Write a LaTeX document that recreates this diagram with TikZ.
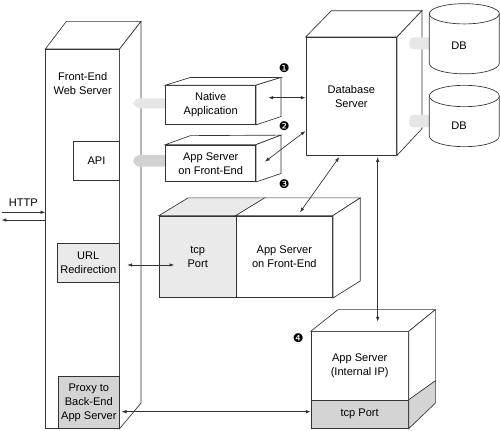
\documentclass[tikz,border=0pt]{standalone}
\usepackage{fontspec}
\setmainfont{Liberation Sans}
\newfontfamily\dvfont{DejaVu Sans}
\usetikzlibrary{calc,arrows.meta}
\newcommand\lbl{\fontsize{8.3}{10.6}\selectfont}
\newcommand\mk{\dvfont\fontsize{9}{9}\selectfont}
\definecolor{lightfill}{HTML}{EAEAEA}
\definecolor{midfill}{HTML}{D4D4D4}
\definecolor{stubA}{HTML}{E6E6E6}
\definecolor{stubB}{HTML}{D2D2D2}
\definecolor{linec}{HTML}{333333}
\tikzset{
  ln/.style={draw=linec, line width=0.5pt, line join=miter},
  face/.style={ln, fill=white, rectangle, inner sep=0pt, align=center, font=\lbl},
  txt/.style={inner sep=0pt, align=center, font=\lbl},
  marker/.style={inner sep=0pt, font=\mk},
  dbl/.style={ln, {Latex[length=3.6pt,width=2.6pt]}-{Latex[length=3.6pt,width=2.6pt]}},
  sgl/.style={ln, -{Latex[length=3.6pt,width=2.6pt]}},
}
\begin{document}
\begin{tikzpicture}[x=0.75pt,y=-0.75pt]
\useasboundingbox[fill=white] (0,0) rectangle (500,431);

% Front-End Web Server
\node[face, minimum width=55.2pt, minimum height=284.25pt] (ws) at (82.5,238.8) {};
\draw[ln, fill=white] (ws.north west) -- ($(ws.north west)+(21,-27.6)$) -- ($(ws.north east)+(21.4,-27.6)$) -- (ws.north east) -- cycle;
\draw[ln, fill=white] (ws.north east) -- ($(ws.north east)+(21.4,-27.6)$) -- ($(ws.south east)+(21.4,-25.6)$) -- (ws.south east) -- cycle;
\node[txt] (wslabel) at (82.7,83.7) {Front-End\\Web Server};
\node[face, minimum width=34.2pt, minimum height=28.7pt] (api) at (96.5,160.8) {API};
\node[face, fill=lightfill, minimum width=46.5pt, minimum height=29.25pt] (url) at (88.3,262.8) {URL\\Redirection};
\node[face, fill=midfill, minimum width=45.75pt, minimum height=38.7pt] (proxy) at (88.8,402.5) {Proxy to\\Back-End\\App Server};

% gray stubs from web server
\fill[stubA, rounded corners=5] (133.3,98.3) rectangle (170,108.3);
\fill[stubB, rounded corners=5] (133.3,155) rectangle (170,166.7);

% Native Application
\node[face, minimum width=67.5pt, minimum height=29.25pt] (nat) at (210.7,105) {Native\\Application};
\draw[ln, fill=white] (nat.north west) -- ($(nat.north west)+(25,-7.7)$) -- ($(nat.north east)+(25,-7.7)$) -- (nat.north east) -- cycle;
\draw[ln, fill=white] (nat.north east) -- ($(nat.north east)+(25,-7.7)$) -- ($(nat.south east)+(25,-8.3)$) -- (nat.south east) -- cycle;

% App Server on Front-End (small)
\node[face, minimum width=67.5pt, minimum height=27.5pt] (afe) at (210.7,163.3) {App Server\\on Front-End};
\draw[ln, fill=white] (afe.north west) -- ($(afe.north west)+(25,-9)$) -- ($(afe.north east)+(25,-9.5)$) -- (afe.north east) -- cycle;
\draw[ln, fill=white] (afe.north east) -- ($(afe.north east)+(25,-9.5)$) -- ($(afe.south east)+(25,-8.5)$) -- (afe.south east) -- cycle;

% Database Server
\node[face, minimum width=68pt, minimum height=88.3pt] (db) at (351.3,96.2) {Database\\Server};
\draw[ln, fill=white] (db.north west) -- ($(db.north west)+(25.7,-26.3)$) -- ($(db.north east)+(25,-26.3)$) -- (db.north east) -- cycle;
\draw[ln, fill=white] (db.north east) -- ($(db.north east)+(25,-26.3)$) -- ($(db.south east)+(25,-26.7)$) -- (db.south east) -- cycle;

% DB stubs
\fill[stubA, rounded corners=3] (409.3,37.3) rectangle (432,49.3);
\fill[stubA, rounded corners=3] (409.3,115) rectangle (432,127.3);

% DB cylinders
\draw[ln, fill=white] (429.3,13.8) -- (429.3,63.3) arc[start angle=180, end angle=360, x radius=26.25pt, y radius=7.9pt] -- (499.3,13.8) -- cycle;
\draw[ln, fill=white] (464.3,13.8) ellipse [x radius=26.25pt, y radius=7.6pt];
\node[txt] (db1) at (459,46) {DB};
\draw[ln, fill=white] (429.3,96) -- (429.3,136) arc[start angle=180, end angle=360, x radius=26.25pt, y radius=8pt] -- (499.3,96) -- cycle;
\draw[ln, fill=white] (464.3,96) ellipse [x radius=26.25pt, y radius=8pt];
\node[txt] (db2) at (459,126) {DB};

% tcp Port + App Server on Front-End (large box)
\node[face, fill=lightfill, minimum width=57.5pt, minimum height=61.3pt] (tcp) at (197.7,256.8) {tcp\\Port};
\node[face, minimum width=72.5pt, minimum height=61.3pt] (afe3) at (284.3,256.8) {App Server\\on Front-End};
\draw[ln, fill=lightfill] (tcp.north west) -- ($(tcp.north west)+(29,-17.7)$) -- ($(tcp.north east)+(29,-17.7)$) -- (tcp.north east) -- cycle;
\draw[ln, fill=white] (afe3.north west) -- ($(afe3.north west)+(29,-17.7)$) -- ($(afe3.north east)+(27.3,-17.7)$) -- (afe3.north east) -- cycle;
\draw[ln, fill=white] (afe3.north east) -- ($(afe3.north east)+(27.3,-17.7)$) -- ($(afe3.south east)+(27.3,-17)$) -- (afe3.south east) -- cycle;

% App Server (Internal IP)
\node[face, minimum width=73pt, minimum height=51.2pt] (ip) at (359.7,365.8) {App Server\\(Internal IP)};
\node[face, fill=midfill, minimum width=73pt, minimum height=21.2pt] (tport) at (359.7,414.2) {tcp Port};
\draw[ln, fill=white] (ip.north west) -- ($(ip.north west)+(27.3,-21.7)$) -- ($(ip.north east)+(26.7,-21.7)$) -- (ip.north east) -- cycle;
\draw[ln, fill=white] (ip.north east) -- ($(ip.north east)+(26.7,-21.7)$) -- ($(ip.south east)+(26.7,-19)$) -- (ip.south east) -- cycle;
\draw[ln, fill=midfill] (tport.north east) -- ($(tport.north east)+(26.7,-19)$) -- ($(tport.south east)+(26.7,-25.6)$) -- (tport.south east) -- cycle;

% markers
\node[marker] (m1) at (284.3,68.3) {❶};
\node[marker] (m2) at (284.3,125.7) {❷};
\node[marker] (m3) at (284.3,184) {❸};
\node[marker] (m4) at (298.3,337.7) {❹};

% HTTP
\node[txt] (http) at (23.3,202.5) {HTTP};
\coordinate (hin) at (1.5,212.3);
\coordinate (hout) at (1.5,220);
\draw[sgl] (hin) -- (hin -| ws.west);
\draw[sgl] (hout -| ws.west) -- (hout);

% connectors
\coordinate (a1s) at (268.3,97.7);
\draw[dbl] (a1s) -- (a1s -| db.west);
\coordinate (a2s) at (265,161.7);
\coordinate (a2e) at (305.5,131);
\draw[dbl] (a2s) -- (a2e);
\coordinate (a3s) at (339.3,157);
\coordinate (a3e) at (300,212.3);
\draw[dbl] (a3s) -- (a3e);
\coordinate (a4s) at (377.7,157);
\coordinate (a4e) at (377.7,321.7);
\draw[dbl] (a4s) -- (a4e);
\coordinate (a5s) at (127.3,265);
\coordinate (a5e) at (174.3,265);
\draw[dbl] (a5s) -- (a5e);
\coordinate (a6s) at (121.7,411.7);
\draw[dbl] (a6s) -- (a6s -| tport.west);
\end{tikzpicture}
\end{document}
